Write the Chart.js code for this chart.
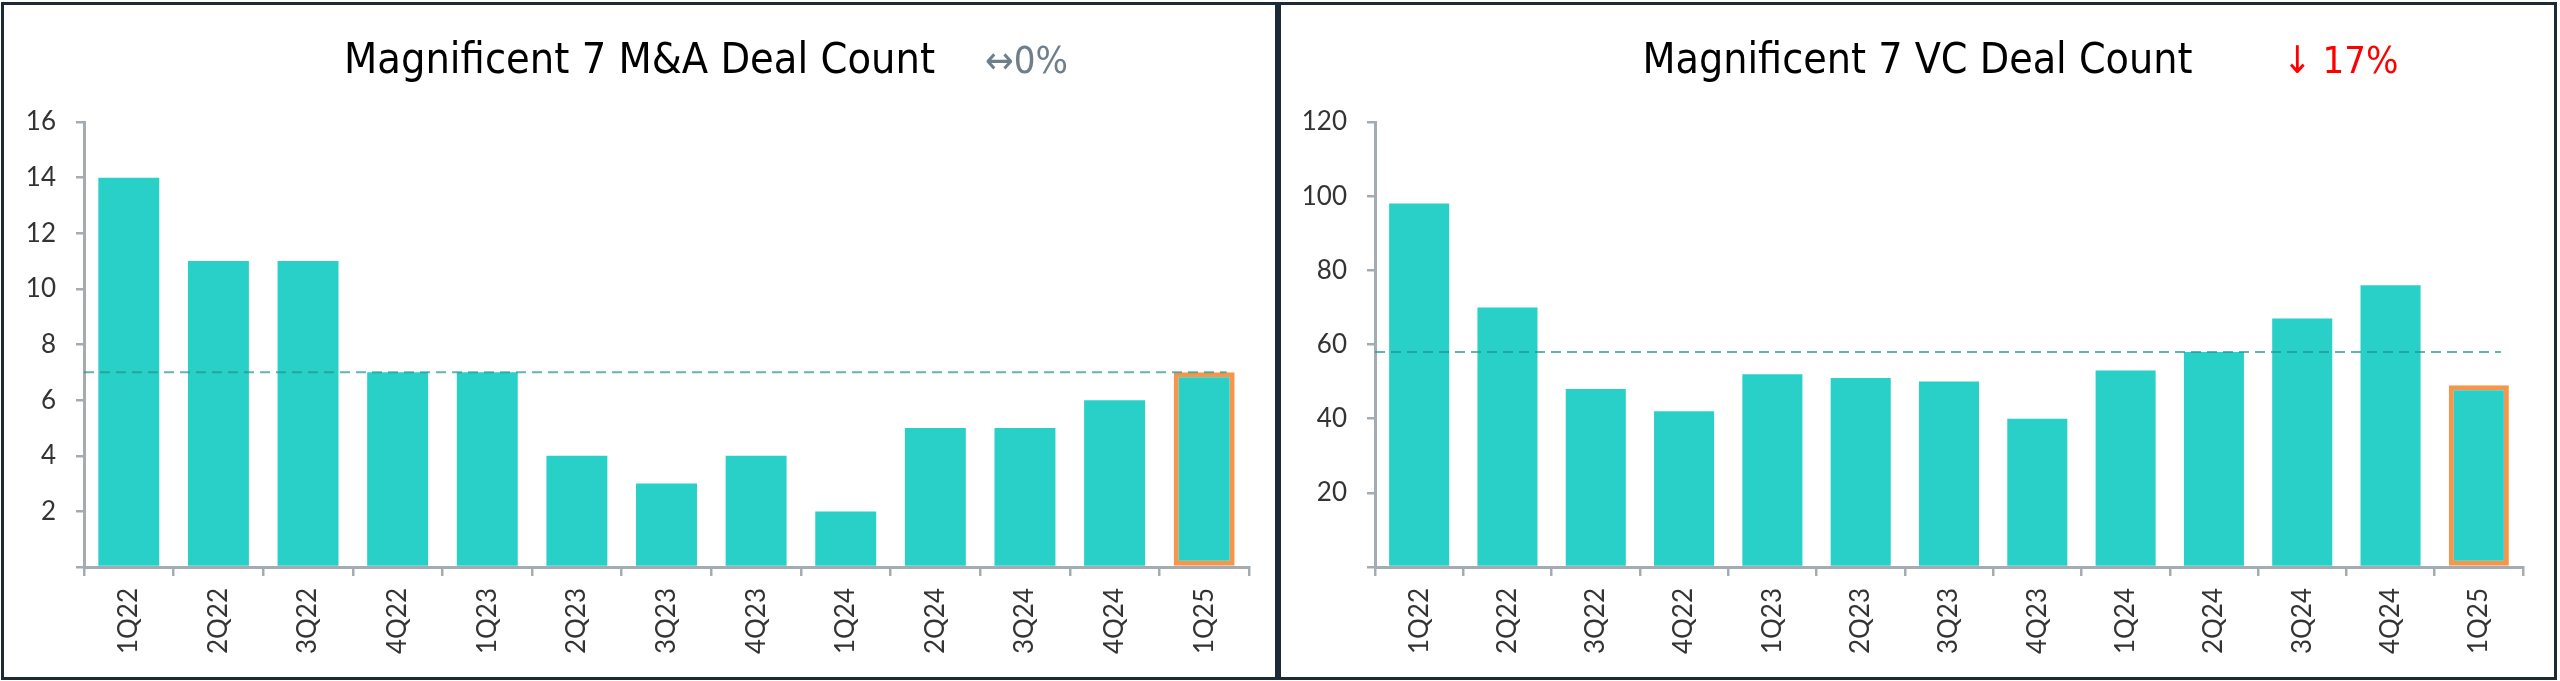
<!DOCTYPE html>
<html>
<head>
<meta charset="utf-8">
<script src="https://cdn.jsdelivr.net/npm/chart.js@4.4.1/dist/chart.umd.min.js"></script>
<style>
    body { margin: 0; background: #fff; width: 2560px; height: 681px; overflow: hidden; position: relative; }
    .panel { position: absolute; top: 2px; height: 672px; border: 3px solid #1c2a38; }
    #left-panel { left: 1px; width: 1271px; }
    #right-panel { left: 1278px; width: 1273px; }
    canvas { position: absolute; left: 0; top: 0; }
</style>
</head>
<body>
<div class="panel" id="left-panel"><canvas id="ma-chart" width="1271" height="672"></canvas></div>
<div class="panel" id="right-panel"><canvas id="vc-chart" width="1273" height="672"></canvas></div>
<script>
    const quarters = ['1Q22', '2Q22', '3Q22', '4Q22', '1Q23', '2Q23', '3Q23', '4Q23', '1Q24', '2Q24', '3Q24', '4Q24', '1Q25'];
    const maDeals = [14, 11, 11, 7, 7, 4, 3, 4, 2, 5, 5, 6, 7];
    const vcDeals = [98, 70, 48, 42, 52, 51, 50, 40, 53, 58, 67, 76, 49];
    const maAverage = 7;
    const vcAverage = 58;
    const maTitle = 'Magnificent 7 M&A Deal Count';
    const vcTitle = 'Magnificent 7 VC Deal Count';
    const maChange = '↔0%';
    const vcChange = '↓ 17%';

    const barColor = '#28d0c8';
    const highlightColor = '#f7964a';
    const axisColor = '#a3acb3';
    const tickFont = {family: 'Lato', size: 26};
    const titleFamily = '"Liberation Sans Narrow", "DejaVu Sans Condensed", "Roboto", sans-serif';

    // title + change label drawn on the canvas (two colours on one line)
    const headline = {
        id: 'headline',
        afterDraw(chart, args, opts) {
            const ctx = chart.ctx;
            ctx.save();
            ctx.textBaseline = 'alphabetic';
            ctx.font = '42px ' + titleFamily;
            ctx.fillStyle = '#000';
            ctx.textAlign = 'center';
            // squeeze to the condensed width of the original title
            const k = opts.width / ctx.measureText(opts.text).width;
            ctx.save();
            ctx.translate(chart.width / 2, 68);
            ctx.scale(k, 1);
            ctx.fillText(opts.text, 0, 0);
            ctx.restore();
            ctx.font = opts.changeSize + 'px ' + titleFamily;
            ctx.fillStyle = opts.changeColor;
            ctx.textAlign = 'left';
            ctx.fillText(opts.change, opts.changeX, 68);
            ctx.restore();
        }
    };

    // dashed average line
    const averageLine = {
        id: 'averageLine',
        afterDatasetsDraw(chart, args, opts) {
            const {ctx, chartArea, scales} = chart;
            const y = scales.y.getPixelForValue(opts.value);
            const xEnd = scales.x.getPixelForValue(quarters.length - 1) + 0.25 * (scales.x.width / quarters.length);
            ctx.save();
            ctx.strokeStyle = 'rgba(30, 150, 143, 0.7)';
            ctx.lineWidth = 2;
            ctx.setLineDash([10, 6]);
            ctx.beginPath();
            ctx.moveTo(chartArea.left, y);
            ctx.lineTo(xEnd, y);
            ctx.stroke();
            ctx.restore();
        }
    };

    function makeChart(el, values, cfg) {
        const last = values.length - 1;
        return new Chart(el, {
            type: 'bar',
            plugins: [averageLine, headline],
            data: {
                labels: quarters,
                datasets: [{
                    data: values,
                    backgroundColor: barColor,
                    borderColor: values.map((v, i) => i === last ? highlightColor : 'rgba(0,0,0,0)'),
                    borderWidth: values.map((v, i) => i === last ? 5 : 0),
                    borderSkipped: false,
                    categoryPercentage: 1,
                    barPercentage: 0.68
                }]
            },
            options: {
                responsive: false,
                animation: false,
                devicePixelRatio: 1,
                layout: {padding: {top: 117, right: cfg.padRight, bottom: 0, left: 0}},
                plugins: {
                    legend: {display: false},
                    tooltip: {enabled: false},
                    headline: {text: cfg.title, width: cfg.titleWidth, change: cfg.change, changeColor: cfg.changeColor, changeSize: cfg.changeSize, changeX: cfg.changeX},
                    averageLine: {value: cfg.average}
                },
                scales: {
                    x: {
                        afterFit: (s) => { s.height = 110; },
                        border: {display: true, color: axisColor, width: 3},
                        grid: {offset: true, drawOnChartArea: false, drawTicks: true, tickLength: 9, color: axisColor, lineWidth: 2.5},
                        ticks: {minRotation: 90, maxRotation: 90, padding: 12, color: '#333', font: tickFont}
                    },
                    y: {
                        min: 0,
                        max: cfg.max,
                        afterFit: (s) => { s.width = cfg.axisWidth; },
                        border: {display: true, color: axisColor, width: 3},
                        grid: {drawOnChartArea: false, drawTicks: true, tickLength: 8, color: axisColor, lineWidth: 2.5},
                        ticks: {
                            stepSize: cfg.step,
                            padding: cfg.labelPad,
                            color: '#333',
                            font: tickFont,
                            callback: (v) => v === 0 ? '' : v
                        }
                    }
                }
            }
        });
    }

    makeChart(document.getElementById('ma-chart'), maDeals, {
        title: maTitle, titleWidth: 591, change: maChange, changeColor: '#6e7e8b', changeSize: 38, changeX: 981,
        average: maAverage, max: 16, step: 2, axisWidth: 80, padRight: 26, labelPad: 20
    });
    makeChart(document.getElementById('vc-chart'), vcDeals, {
        title: vcTitle, titleWidth: 550, change: vcChange, changeColor: '#ff0000', changeSize: 38, changeX: 1002,
        average: vcAverage, max: 120, step: 20, axisWidth: 94, padRight: 31, labelPad: 20
    });
</script>
</body>
</html>
